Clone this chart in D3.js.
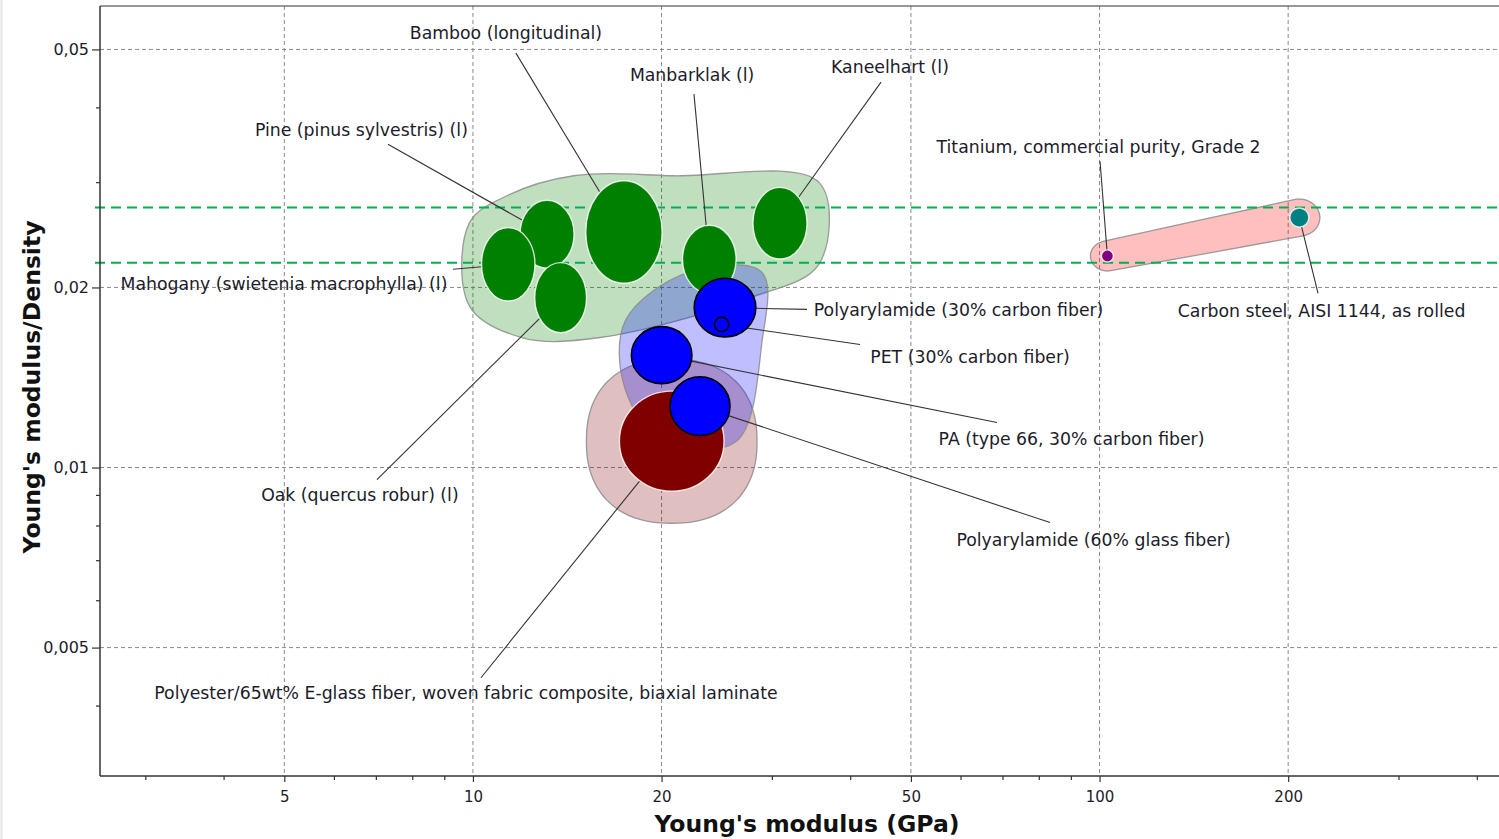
<!DOCTYPE html>
<html><head><meta charset="utf-8">
<script src="https://cdn.jsdelivr.net/npm/d3@7"></script>
<style>
html,body{margin:0;padding:0;background:#fff;}
svg{display:block;}
text{font-family:"DejaVu Sans",Verdana,sans-serif;}
</style></head><body>
<svg id="c" width="1499" height="839"></svg>
<script>
// ---------------- data ----------------
const materials = [
  "Pine (pinus sylvestris) (l)",
  "Mahogany (swietenia macrophylla) (l)",
  "Oak (quercus robur) (l)",
  "Bamboo (longitudinal)",
  "Manbarklak (l)",
  "Kaneelhart (l)",
  "Polyester/65wt% E-glass fiber, woven fabric composite, biaxial laminate",
  "PA (type 66, 30% carbon fiber)",
  "Polyarylamide (60% glass fiber)",
  "Polyarylamide (30% carbon fiber)",
  "PET (30% carbon fiber)",
  "Titanium, commercial purity, Grade 2",
  "Carbon steel, AISI 1144, as rolled"
];
const groups = ["wood","wood","wood","wood","wood","wood","composite","polymer","polymer","polymer","polymer","metal","metal"];
const modulusLow  = [11.89, 10.32, 12.55, 15.14, 21.60, 27.98, 17.13, 17.90, 20.63, 22.55, 24.29, 100.7, 201.2];
const modulusHigh = [14.50, 12.56, 15.18, 20.04, 26.30, 34.13, 25.16, 22.36, 25.72, 28.28, 25.61, 105.2, 215.8];
const ratioLow    = [0.02154, 0.01898, 0.01680, 0.02033, 0.01955, 0.02231, 0.009127, 0.01381, 0.01131, 0.01653, 0.01688, 0.02206, 0.02523];
const ratioHigh   = [0.02798, 0.02518, 0.02201, 0.03016, 0.02541, 0.02940, 0.01342,  0.01720, 0.01418, 0.02072, 0.01784, 0.02311, 0.02715];

// label anchors (data units): label centre and outer end of leader line
const labelModulus  = [6.638, 4.993, 6.601, 11.29, 22.37, 46.30, 9.746, 90.22, 97.82, 59.57, 62.14, 99.63, 226.1];
const labelRatio    = [0.03665, 0.02032, 0.009011, 0.05325, 0.04530, 0.04672, 0.004202, 0.01118, 0.007576, 0.01838, 0.01534, 0.03432, 0.01831];
const leaderModulus = [7.318, 9.292, 7.028, 11.71, 22.53, 44.80, 10.30, 68.61, 83.38, 34.13, 41.47, 100.18, 223.2];
const leaderRatio   = [0.03472, 0.02145, 0.009548, 0.04930, 0.04210, 0.04409, 0.004452, 0.01189, 0.008091, 0.01838, 0.01606, 0.03252, 0.01955];

const selectionRatios = [0.0272, 0.0220];

const xMajorTicks = [5, 10, 20, 50, 100, 200];
const xMajorLabels = ["5", "10", "20", "50", "100", "200"];
const xMinorTicks = [3, 4, 6, 7, 8, 9, 30, 40, 60, 70, 80, 90, 300, 400];
const yMajorTicks = [0.005, 0.01, 0.02, 0.05];
const yMajorLabels = ["0,005", "0,01", "0,02", "0,05"];
const yMinorTicks = [0.004, 0.006, 0.007, 0.008, 0.009, 0.03, 0.04];

const xTitle = "Young's modulus (GPa)";
const yTitle = "Young's modulus/Density";

// ---------------- styles ----------------
const materialColor = ["#008000","#008000","#008000","#008000","#008000","#008000","#800000","#0000ff","#0000ff","#0000ff","#0000ff","#800080","#008080"];
// envelope construction: "box" = corners of the padded range box, "ellipse" = padded bubble outline
const hullStyle = {
  wood:      {fill:"#008000", shape:"box",     mx:12, my:5},
  composite: {fill:"#800000", shape:"ellipse", mx:33, my:32, n:2.3},
  polymer:   {fill:"#0000ff", shape:"box",     mx:6,  my:6},
  metal:     {fill:"#ff0000", shape:"ellipse", mx:11, my:9,  n:2}
};
const hullOrder = ["wood","composite","polymer","metal"];
const labelFont = 17.3;

// ---------------- chart ----------------
const W = 1499, H = 839;
const M = {left:100, top:6, right:1499, bottom:776};
const svg = d3.select("#c");

const x = d3.scaleLog().domain([2.54, 434]).range([M.left, M.right]);
const y = d3.scaleLog().domain([0.00305, 0.0591]).range([M.bottom, M.top]);

// faint outer border on left
svg.append("line").attr("x1",1.5).attr("x2",1.5).attr("y1",0).attr("y2",H)
  .attr("stroke","#e4e4e4").attr("stroke-width",2);

// grid
const grid = svg.append("g");
grid.selectAll(".gx").data(xMajorTicks).join("line")
  .attr("x1",d=>x(d)).attr("x2",d=>x(d)).attr("y1",M.top).attr("y2",M.bottom)
  .attr("stroke","#8a8a8a").attr("stroke-width",1).attr("stroke-dasharray","4,3");
grid.selectAll(".gy").data(yMajorTicks).join("line")
  .attr("x1",M.left).attr("x2",M.right).attr("y1",d=>y(d)).attr("y2",d=>y(d))
  .attr("stroke","#8a8a8a").attr("stroke-width",1).attr("stroke-dasharray","4,3");

// ellipse geometry
const bubbles = materials.map((m,i)=>{
  const x1 = x(modulusLow[i]), x2 = x(modulusHigh[i]);
  const y1 = y(ratioHigh[i]), y2 = y(ratioLow[i]);
  return {i, name:m, group:groups[i], cx:(x1+x2)/2, cy:(y1+y2)/2, rx:(x2-x1)/2, ry:(y2-y1)/2, color:materialColor[i]};
});

// envelopes
const hullG = svg.append("g");
hullOrder.forEach(g=>{
  const st = hullStyle[g];
  const pts = [];
  bubbles.filter(b=>b.group===g).forEach(b=>{
    const A = b.rx+st.mx, B = b.ry+st.my;
    if (st.shape==="box"){
      pts.push([b.cx-A,b.cy-B],[b.cx+A,b.cy-B],[b.cx+A,b.cy+B],[b.cx-A,b.cy+B]);
    } else {
      const p = 2/st.n;
      for (let k=0;k<96;k++){
        const t = k/96*2*Math.PI, c = Math.cos(t), s = Math.sin(t);
        pts.push([b.cx+A*Math.sign(c)*Math.pow(Math.abs(c),p), b.cy+B*Math.sign(s)*Math.pow(Math.abs(s),p)]);
      }
    }
  });
  const hull = d3.polygonHull(pts);
  hullG.append("path")
    .attr("d", d3.line().curve(d3.curveCatmullRomClosed.alpha(0.5))(hull))
    .attr("fill", st.fill).attr("fill-opacity",0.25)
    .attr("stroke","#8c8c8c").attr("stroke-width",1.3).attr("stroke-opacity",0.85);
});

// selection lines
svg.append("g").selectAll("line").data(selectionRatios).join("line")
  .attr("x1",M.left-5).attr("x2",M.right).attr("y1",d=>y(d)).attr("y2",d=>y(d))
  .attr("stroke","#00b050").attr("stroke-width",2).attr("stroke-dasharray","10,6");

// leader lines
const leaderG = svg.append("g");
bubbles.forEach(b=>{
  const ox = x(leaderModulus[b.i]), oy = y(leaderRatio[b.i]);
  const dx = ox-b.cx, dy = oy-b.cy;
  const t = 1/Math.sqrt((dx/b.rx)**2 + (dy/b.ry)**2);
  leaderG.append("line")
    .attr("x1", b.cx+dx*t).attr("y1", b.cy+dy*t).attr("x2", ox).attr("y2", oy)
    .attr("stroke","#333").attr("stroke-width",1.1);
});

// bubbles
svg.append("g").selectAll("ellipse").data(bubbles).join("ellipse")
  .attr("cx",d=>d.cx).attr("cy",d=>d.cy).attr("rx",d=>d.rx).attr("ry",d=>d.ry)
  .attr("fill",d=>d.color)
  .attr("stroke",d=>d.group==="polymer" ? "#000" : "#fff")
  .attr("stroke-width",d=>d.group==="polymer" ? 1.6 : 1.4)
  .attr("stroke-opacity",d=>d.group==="polymer" ? 1 : 0.8);

// labels
svg.append("g").selectAll("text").data(bubbles).join("text")
  .attr("x",d=>x(labelModulus[d.i])).attr("y",d=>y(labelRatio[d.i]))
  .attr("dy","0.36em").attr("text-anchor","middle")
  .attr("font-size",labelFont).attr("fill","#1c1c2a")
  .text(d=>d.name);

// axes
const axG = svg.append("g");
axG.append("line").attr("x1",M.left).attr("x2",M.left).attr("y1",M.top).attr("y2",M.bottom).attr("stroke","#333").attr("stroke-width",1.5);
axG.append("line").attr("x1",M.left).attr("x2",M.right).attr("y1",M.bottom).attr("y2",M.bottom).attr("stroke","#333").attr("stroke-width",1.5);
axG.append("line").attr("x1",M.left).attr("x2",M.right).attr("y1",M.top).attr("y2",M.top).attr("stroke","#333").attr("stroke-width",1.2);

const xMajor = d3.axisBottom(x).tickValues(xMajorTicks).tickSize(6).tickPadding(9)
  .tickFormat((d,i)=>xMajorLabels[i]);
const xMinor = d3.axisBottom(x).tickValues(xMinorTicks).tickSize(4).tickFormat("");
const yMajor = d3.axisLeft(y).tickValues(yMajorTicks).tickSize(8).tickPadding(3)
  .tickFormat((d,i)=>yMajorLabels[i]);
const yMinor = d3.axisLeft(y).tickValues(yMinorTicks).tickSize(4).tickFormat("");

function styleAxis(g, fs){
  g.select(".domain").remove();
  g.selectAll("line").attr("stroke","#333").attr("stroke-width",1.2);
  g.selectAll("text").attr("font-size",fs).attr("fill","#1c1c2a").attr("font-family","DejaVu Sans, Verdana, sans-serif");
}
svg.append("g").attr("transform",`translate(0,${M.bottom})`).call(xMajor).call(g=>styleAxis(g,15));
svg.append("g").attr("transform",`translate(0,${M.bottom})`).call(xMinor).call(g=>styleAxis(g,14));
svg.append("g").attr("transform",`translate(${M.left},0)`).call(yMajor).call(g=>styleAxis(g,16));
svg.append("g").attr("transform",`translate(${M.left},0)`).call(yMinor).call(g=>styleAxis(g,14));

// titles
svg.append("text").attr("x",807).attr("y",832).attr("text-anchor","middle")
  .attr("font-size",23.5).attr("font-weight","bold").attr("fill","#111").text(xTitle);
svg.append("text").attr("transform","translate(40,387) rotate(-90)").attr("text-anchor","middle")
  .attr("font-size",23.5).attr("font-weight","bold").attr("fill","#111").text(yTitle);
</script>
</body></html>
